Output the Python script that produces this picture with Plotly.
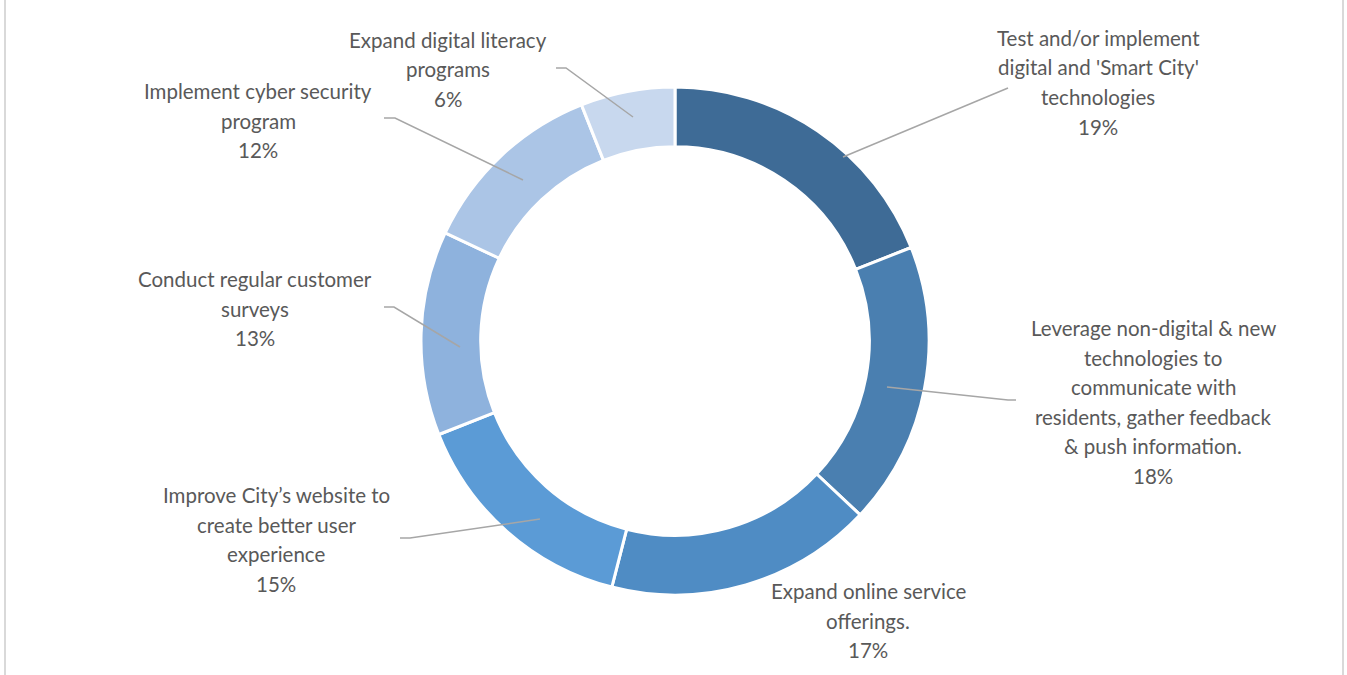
import plotly.graph_objects as go

# ---- data ----
categories = [
    "Test and/or implement<br>digital and 'Smart City'<br>technologies",
    "Leverage non-digital & new<br>technologies to<br>communicate with<br>residents, gather feedback<br>& push information.",
    "Expand online service<br>offerings.",
    "Improve City\u2019s website to<br>create better user<br>experience",
    "Conduct regular customer<br>surveys",
    "Implement cyber security<br>program",
    "Expand digital literacy<br>programs",
]
values = [19, 18, 17, 15, 13, 12, 6]
colors = ["#3E6B96", "#4A7FB0", "#4F8CC4", "#5B9BD6", "#8EB2DD", "#ABC5E6", "#C8D8EE"]

# ---- layout config (reference pixel coordinates) ----
W, H = 1347, 675
CX, CY, R = 675, 341, 254
HOLE = 0.765
# label block: center x, y of first line
label_pos = [(1098, 38), (1153, 328), (868, 591), (276, 495), (255, 279), (258, 91), (448, 40)]
# leader lines: start (inside slice), end (label side), short horizontal offset
leader_start = [(843, 157), (887, 387), None, (540, 519), (460, 347), (523, 180), (633, 117)]
leader_end = [(1008, 88), (1016, 400), None, (400, 538), (384, 307), (384, 118), (556, 68)]
leader_hseg = [0, -8, 0, 10, 10, 11, 10]
LINE_H = 29.5
TEXT_COLOR = "#595959"
FONT = "Lato"
FSIZE = 20.5


def px(x):
    return x / W


def py(y):
    return 1 - y / H


fig = go.Figure(
    go.Pie(
        values=values,
        labels=[c.replace("<br>", " ") for c in categories],
        marker=dict(colors=colors, line=dict(color="white", width=3)),
        hole=HOLE,
        sort=False,
        direction="clockwise",
        rotation=0,
        textinfo="none",
        hoverinfo="label+percent",
        showlegend=False,
        domain=dict(x=[px(CX - 400), px(CX + 400)], y=[py(CY + R), py(CY - R)]),
    )
)

annotations = []
shapes = []
total = sum(values)
for i, (cat, v) in enumerate(zip(categories, values)):
    lines = cat.split("<br>") + [f"{round(100 * v / total)}%"]
    lx, ly = label_pos[i]
    for j, t in enumerate(lines):
        annotations.append(dict(
            x=px(lx), y=py(ly + j * LINE_H), xref="paper", yref="paper",
            text=t, showarrow=False, xanchor="center", yanchor="middle",
            font=dict(family=FONT, size=FSIZE, color=TEXT_COLOR),
        ))
    if leader_end[i] is not None:
        sx, sy = leader_start[i]
        ex, ey = leader_end[i]
        hx = ex + leader_hseg[i]
        path = f"M {px(sx)},{py(sy)} L {px(hx)},{py(ey)} L {px(ex)},{py(ey)}"
        shapes.append(dict(type="path", xref="paper", yref="paper", path=path,
                           line=dict(color="#A6A6A6", width=1.5)))

# chart-area side borders
for bx in (5, 1343):
    shapes.append(dict(type="line", xref="paper", yref="paper",
                       x0=px(bx), x1=px(bx), y0=0, y1=1,
                       line=dict(color="#D9D9D9", width=2)))

fig.update_layout(
    width=W, height=H,
    margin=dict(l=0, r=0, t=0, b=0),
    paper_bgcolor="white", plot_bgcolor="white",
    annotations=annotations, shapes=shapes,
)

fig.write_html(
    "out.html",
    config={"displayModeBar": False},
    post_script="document.body.style.margin='0';document.body.style.overflow='hidden';",
)
